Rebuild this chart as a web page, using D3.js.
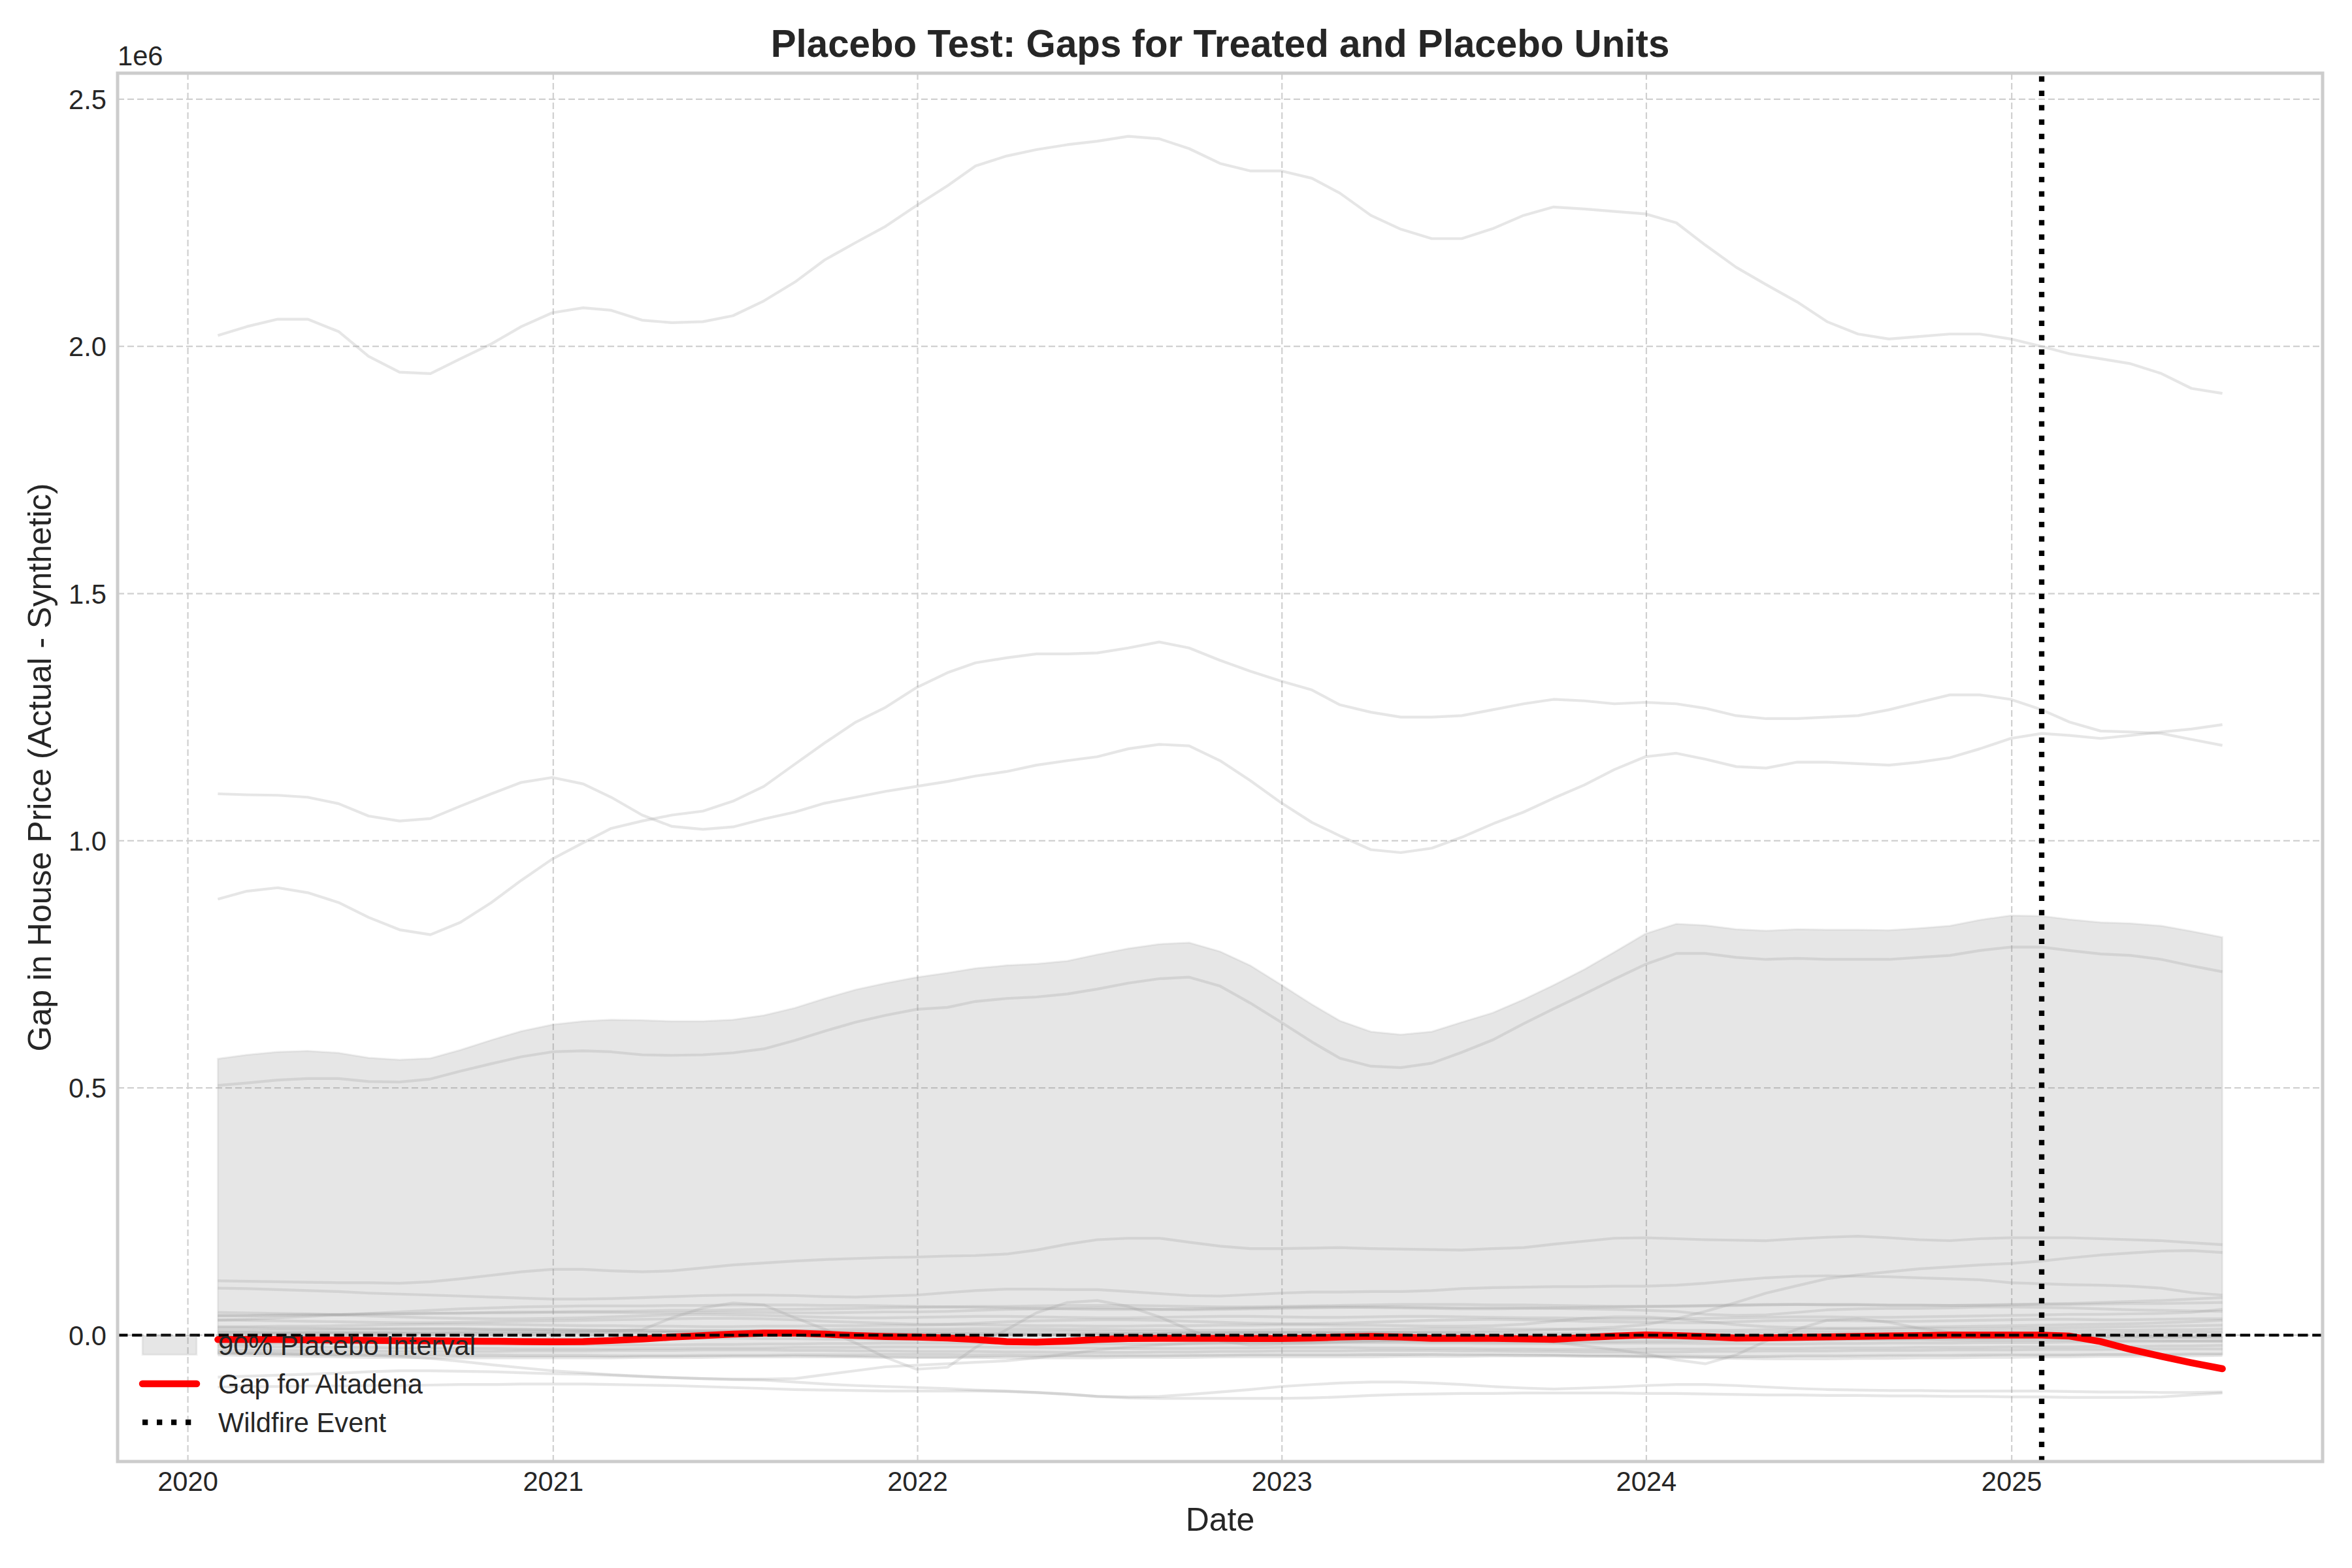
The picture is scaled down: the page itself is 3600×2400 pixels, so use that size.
<!DOCTYPE html>
<html><head><meta charset="utf-8">
<script src="https://cdn.jsdelivr.net/npm/d3@7"></script>
<style>body{margin:0;background:#fff}svg{display:block}</style>
</head><body>
<svg id="chart" width="3600" height="2400"></svg>
<script>
// ---------------- DATA (gap values in thousands of dollars) ----------------
const dates = [
"2020-01-31","2020-02-29","2020-03-31","2020-04-30","2020-05-31","2020-06-30","2020-07-31","2020-08-31","2020-09-30","2020-10-31","2020-11-30","2020-12-31",
"2021-01-31","2021-02-28","2021-03-31","2021-04-30","2021-05-31","2021-06-30","2021-07-31","2021-08-31","2021-09-30","2021-10-31","2021-11-30","2021-12-31",
"2022-01-31","2022-02-28","2022-03-31","2022-04-30","2022-05-31","2022-06-30","2022-07-31","2022-08-31","2022-09-30","2022-10-31","2022-11-30","2022-12-31",
"2023-01-31","2023-02-28","2023-03-31","2023-04-30","2023-05-31","2023-06-30","2023-07-31","2023-08-31","2023-09-30","2023-10-31","2023-11-30","2023-12-31",
"2024-01-31","2024-02-29","2024-03-31","2024-04-30","2024-05-31","2024-06-30","2024-07-31","2024-08-31","2024-09-30","2024-10-31","2024-11-30","2024-12-31",
"2025-01-31","2025-02-28","2025-03-31","2025-04-30","2025-05-31","2025-06-30","2025-07-31"];

const wildfireDate = "2025-01-31";
const xTickLabels = ["2020","2021","2022","2023","2024","2025"];
const yTickValues = [0, 0.5, 1.0, 1.5, 2.0, 2.5];           // in millions
const yTickLabels = ["0.0","0.5","1.0","1.5","2.0","2.5"];

// treated unit (Altadena)
const gapAltadena = [
-9,-9,-9,-9.5,-10,-10.5,-11,-11.5,-12,-12.5,-13,-13.5,
-13,-11,-8,-4,-1,2,4,4,2,-1,-3,-4,
-6,-9,-13,-14,-12,-9,-7,-6.5,-6.5,-6.5,-7,-7,
-6,-4,-2.5,-4,-6.5,-6.5,-6.5,-7.5,-8.5,-5,-2,0.5,
-1,-3,-6,-5.5,-4.5,-3.5,-2.5,-1.5,-1,0,0,0,
0,-2,-13,-29,-43,-56,-68];

// 90% placebo interval
const intervalUpper = [
559,567,573,575,571,561,557,560,577,597,615,628,
635,638,637,635,635,638,647,662,681,699,712,724,
733,742,748,751,757,770,782,791,794,776,748,709,
669,636,614,608,614,633,652,679,708,740,775,812,
832,829,821,818,821,820,820,819,823,828,840,849,
848,841,835,833,828,817,805];
const intervalLower = [
-38,-39,-40,-41,-42,-42,-43,-43,-44,-44,-44,-44,
-44,-44,-43,-43,-43,-42,-42,-42,-43,-44,-45,-46,
-46,-45,-44,-44,-43,-43,-42,-42,-42,-41,-41,-41,
-41,-41,-41,-41,-40,-40,-40,-40,-41,-42,-43,-44,
-45,-46,-46,-45,-44,-44,-43,-43,-42,-42,-42,-41,
-41,-41,-40,-40,-40,-39,-39];

// placebo units
const placeboA = [
2022,2040,2055,2055,2030,1980,1948,1945,1975,2005,2040,2068,
2078,2073,2053,2048,2050,2062,2092,2130,2175,2210,2243,2285,
2325,2365,2385,2398,2408,2415,2425,2420,2400,2370,2355,2355,
2340,2310,2265,2237,2218,2218,2238,2265,2282,2278,2273,2268,
2250,2205,2160,2125,2090,2050,2025,2015,2020,2025,2025,2015,
2000,1985,1975,1965,1945,1915,1905];
const placeboB = [
1095,1093,1092,1088,1075,1050,1040,1045,1070,1095,1118,1128,
1115,1088,1052,1029,1023,1028,1044,1058,1076,1088,1100,1110,
1120,1131,1140,1153,1162,1170,1186,1195,1192,1162,1122,1077,
1037,1010,982,976,985,1007,1034,1058,1086,1113,1144,1170,
1177,1165,1150,1147,1159,1159,1156,1153,1159,1168,1186,1207,
1217,1213,1207,1213,1220,1226,1235];
const placeboC = [
882,898,905,895,875,845,820,810,835,875,920,963,
996,1025,1040,1052,1060,1080,1110,1155,1198,1240,1270,1310,
1340,1360,1370,1378,1378,1380,1390,1402,1390,1365,1343,1323,
1305,1275,1260,1250,1250,1253,1265,1277,1286,1283,1277,1280,
1277,1268,1253,1247,1247,1250,1253,1265,1280,1295,1295,1286,
1265,1240,1222,1220,1217,1205,1193];
const placeboD = [
505,510,516,519,519,513,512,518,534,549,563,573,
575,573,567,566,567,571,579,596,615,633,647,659,
663,675,681,684,690,700,712,721,724,706,672,633,
593,560,544,541,550,572,597,630,660,690,720,750,
772,772,764,760,762,760,760,760,764,768,778,785,
785,778,771,768,760,747,735];
const placeboE = [
110,109,108,107,106,106,105,108,114,121,128,133,
133,130,128,130,136,142,146,150,153,155,157,158,
160,161,164,172,184,193,196,196,188,180,175,175,
176,177,175,174,173,172,175,177,184,190,196,197,
195,193,192,191,195,198,200,197,193,191,195,197,
197,197,195,193,191,187,183];
const placeboF = [
95,94,92,90,88,85,83,81,79,77,75,73,
73,74,76,78,80,81,81,80,78,77,79,81,
86,90,93,93,92,92,88,84,80,79,82,85,
87,87,88,88,90,94,96,97,98,98,99,99,
101,105,111,116,119,120,119,118,116,114,112,106,
104,102,101,99,95,86,81];
const placeboG = [
2,2,3,3,3,4,4,4,5,5,5,5,
6,6,6,6,5,5,5,4,4,4,4,3,
3,3,2,2,2,3,3,3,4,4,4,5,
5,5,6,6,7,7,8,9,11,13,16,21,
33,48,66,85,100,114,122,128,134,138,142,145,
150,156,162,166,170,171,167];
const placeboH = [
40,40,41,42,42,43,43,44,44,45,45,46,
46,46,45,45,46,46,46,45,45,46,47,47,
48,50,52,53,54,55,54,52,51,52,53,54,
55,56,57,57,56,55,55,55,54,53,52,50,
48,42,40,41,46,51,53,54,54,55,57,57,
56,55,53,51,50,49,48];
const placeboI = [
5,5,5,6,6,6,7,7,7,8,8,8,
8,9,11,35,55,65,61,35,12,-16,-45,-69,
-65,-25,11,45,66,70,58,37,11,-12,-20,-18,
-16,-14,-12,-10,-8,-6,-5,-4,-4,-3,-3,-3,
-2,-2,-1,-1,0,0,1,1,2,2,2,3,
3,4,4,5,5,6,6];
const placeboJ = [
15,15,14,14,13,13,12,12,12,11,11,11,
10,10,10,9,9,9,9,8,8,8,8,8,
8,8,8,8,8,7,7,7,6,6,6,6,
6,5,5,4,3,2,-1,-6,-14,-22,-29,-38,
-50,-58,-40,-12,12,30,33,26,14,6,2,0,
-1,-2,-3,-3,-4,-4,-5];
const placeboK = [
-36,-37,-38,-39,-40,-41,-43,-47,-53,-60,-66,-72,
-76,-80,-83,-86,-88,-89,-89,-88,-80,-72,-64,-61,
-58,-55,-52,-46,-38,-30,-24,-20,-17,-15,-14,-13,
-13,-12,-12,-12,-13,-13,-14,-14,-14,-13,-13,-12,
-12,-11,-11,-10,-10,-10,-9,-9,-9,-10,-10,-10,
-10,-10,-11,-11,-11,-12,-12];
const placeboL = [
-85,-83,-81,-79,-77,-74,-72,-72,-73,-74,-76,-78,
-79,-81,-84,-86,-88,-90,-91,-95,-99,-102,-104,-106,
-108,-111,-113,-116,-119,-124,-125,-124,-120,-115,-110,-104,
-100,-97,-95,-95,-97,-100,-104,-107,-109,-107,-105,-102,
-100,-100,-102,-105,-108,-110,-111,-112,-112,-113,-113,-113,
-113,-114,-115,-115,-116,-116,-115];
const placeboM = [
-105,-104,-104,-103,-103,-102,-102,-101,-100,-100,-99,-99,
-99,-100,-101,-102,-104,-106,-108,-110,-111,-112,-113,-113,
-113,-113,-114,-116,-120,-124,-127,-128,-128,-128,-128,-128,
-127,-125,-122,-120,-119,-118,-118,-117,-117,-117,-117,-118,
-118,-119,-120,-121,-121,-122,-122,-123,-123,-124,-124,-125,
-125,-126,-126,-126,-125,-121,-117];
const placeboN = [
31,30,29,28,27,26,25,25,26,27,28,29,
30,31,32,33,34,34,33,31,28,26,24,22,
22,24,27,29,30,31,31,30,28,26,24,23,
23,24,26,28,30,31,32,31,30,28,27,26,
25,25,27,29,30,30,29,28,28,29,30,31,
32,32,31,31,32,33,33];
const placeboO = [
46,45,44,43,41,39,37,35,34,33,33,34,
35,37,39,41,42,41,40,38,36,35,35,36,
37,38,38,37,36,35,35,36,37,38,38,37,
36,36,37,38,38,37,36,35,35,34,33,33,
33,34,35,36,37,37,36,36,37,38,39,40,
41,42,42,43,44,46,52];
const placeboP = [
39,39,40,40,41,42,43,44,45,46,47,47,
48,48,49,50,50,51,52,52,53,54,55,56,
57,58,58,59,60,60,60,59,58,57,57,58,
59,60,61,62,62,62,61,61,60,59,58,58,
58,59,60,61,62,62,62,61,61,60,60,61,
62,62,63,64,64,65,66];
const placeboQ = [
17,17,18,18,19,20,21,22,22,22,21,20,
19,19,18,18,17,17,18,18,19,19,20,20,
21,21,20,19,19,18,18,19,19,20,20,21,
21,20,20,19,18,18,19,22,28,34,37,37,
33,27,21,17,15,14,14,15,16,17,18,19,
20,21,22,23,25,27,30];
const placeboR = [
10,10,11,11,12,12,13,13,13,12,12,11,
11,10,10,9,9,9,10,10,11,12,12,12,
12,13,13,13,12,12,11,11,10,10,10,11,
11,12,12,12,13,13,13,12,12,11,11,11,
10,10,10,11,11,12,12,12,13,13,13,14,
14,15,16,17,18,19,20];
const placeboS = [
6,6,5,5,5,4,4,3,3,3,3,4,
4,5,5,6,6,6,5,5,4,4,4,4,
4,3,3,2,2,2,3,3,4,4,5,5,
5,5,6,6,6,5,5,4,4,4,4,4,
4,5,5,5,6,6,6,7,7,7,8,8,
9,9,10,10,11,11,12];
const placeboT = [
-7,-7,-8,-8,-9,-9,-10,-10,-10,-9,-9,-8,
-8,-7,-7,-6,-6,-6,-7,-7,-8,-8,-9,-9,
-9,-10,-10,-10,-9,-9,-8,-8,-8,-7,-7,-7,
-7,-8,-8,-9,-9,-9,-8,-8,-7,-7,-6,-6,
-6,-6,-7,-7,-7,-8,-8,-8,-7,-7,-7,-6,
-6,-6,-5,-5,-4,-4,-3];
const placeboU = [
-18,-18,-17,-17,-16,-16,-16,-17,-17,-18,-18,-19,
-19,-20,-20,-20,-19,-19,-18,-18,-17,-17,-16,-16,
-16,-16,-17,-17,-18,-18,-18,-18,-17,-17,-16,-16,
-16,-15,-15,-15,-16,-16,-17,-17,-17,-16,-16,-16,
-16,-17,-17,-18,-18,-17,-17,-16,-16,-16,-15,-15,
-15,-14,-14,-13,-13,-12,-12];
const placeboV = [
-23,-23,-24,-24,-25,-25,-26,-26,-27,-27,-28,-28,
-28,-28,-27,-27,-26,-26,-26,-25,-25,-25,-24,-24,
-24,-24,-25,-25,-26,-26,-27,-27,-27,-26,-26,-25,
-25,-25,-26,-26,-27,-27,-28,-28,-29,-29,-29,-28,
-28,-28,-27,-27,-27,-26,-26,-26,-25,-25,-25,-24,
-24,-24,-23,-23,-22,-22,-21];
const placeboW = [
-30,-30,-31,-31,-32,-32,-33,-33,-33,-33,-32,-32,
-32,-31,-31,-31,-30,-30,-30,-31,-31,-32,-32,-33,
-33,-33,-34,-34,-35,-35,-35,-34,-34,-33,-33,-32,
-32,-32,-31,-31,-31,-32,-32,-33,-33,-34,-34,-34,
-34,-33,-33,-32,-32,-32,-31,-31,-31,-30,-30,-30,
-29,-29,-29,-28,-28,-28,-28];
const placeboX = [
-34,-35,-36,-37,-38,-38,-39,-39,-40,-40,-41,-41,
-41,-42,-42,-42,-41,-41,-41,-40,-40,-40,-39,-39,
-39,-40,-40,-41,-41,-42,-42,-42,-41,-41,-40,-40,
-40,-40,-39,-39,-39,-40,-40,-41,-41,-42,-42,-42,
-42,-43,-43,-43,-42,-42,-42,-41,-41,-41,-40,-40,
-40,-40,-39,-39,-39,-38,-38];
const placeboY = [
-40,-41,-42,-43,-44,-45,-45,-46,-46,-46,-46,-46,
-46,-46,-45,-45,-45,-44,-44,-44,-44,-44,-45,-45,
-45,-45,-46,-46,-46,-46,-45,-45,-45,-44,-44,-44,
-44,-44,-44,-43,-43,-43,-42,-42,-42,-43,-43,-44,
-45,-46,-47,-48,-48,-48,-47,-47,-46,-46,-45,-45,
-44,-44,-43,-43,-42,-42,-41];
const placeboZ = [
30,32,35,38,41,44,47,50,53,55,57,58,
59,59,59,60,60,61,61,61,60,60,59,58,
57,56,55,54,53,52,52,52,53,54,55,56,
57,57,56,55,54,53,53,54,55,56,57,58,
59,60,61,62,62,61,61,60,60,60,61,62,
63,64,66,68,70,73,76];

const placeboSeries = [placeboA,placeboB,placeboC,placeboD,placeboE,placeboF,placeboG,
  placeboH,placeboI,placeboJ,placeboK,placeboL,placeboM,placeboN,placeboO,placeboP,
  placeboQ,placeboR,placeboS,placeboT,placeboU,placeboV,placeboW,placeboX,placeboY,placeboZ];

const legendLabels = ["90% Placebo Interval","Gap for Altadena","Wildfire Event"];
const titleText = "Placebo Test: Gaps for Treated and Placebo Units";
const xLabel = "Date";
const yLabel = "Gap in House Price (Actual - Synthetic)";

// ---------------- CHART ----------------
const UNIT = 1000;
const FONT = "'Liberation Sans', Arial, Helvetica, sans-serif";
const TXT = "#262626";
const svg = d3.select("#chart");
const box = {left:180, right:3555, top:112, bottom:2237};

const parse = d3.utcParse("%Y-%m-%d");
const X = dates.map(parse);
const t0 = X[0], t1 = X[X.length-1];
const xPad = (t1 - t0) * 0.05;
const x = d3.scaleUtc().domain([new Date(+t0 - xPad), new Date(+t1 + xPad)]).range([box.left, box.right]);

const allVals = placeboSeries.flat().concat(gapAltadena).map(v => v * UNIT);
const vMin = d3.min(allVals), vMax = d3.max(allVals);
const yPad = (vMax - vMin) * 0.05;
const y = d3.scaleLinear().domain([vMin - yPad, vMax + yPad]).range([box.bottom, box.top]);

svg.append("rect").attr("width",3600).attr("height",2400).attr("fill","#fff");

// grid
const gridG = svg.append("g");
const xTickDates = xTickLabels.map(s => parse(s + "-01-01"));
gridG.selectAll("line.vx").data(xTickDates).join("line")
  .attr("x1", d => x(d)).attr("x2", d => x(d)).attr("y1", box.top).attr("y2", box.bottom)
  .attr("stroke", "#d0d0d0").attr("stroke-width", 2.2).attr("stroke-dasharray", "10,5");
gridG.selectAll("line.hy").data(yTickValues).join("line")
  .attr("x1", box.left).attr("x2", box.right).attr("y1", d => y(d*1e6)).attr("y2", d => y(d*1e6))
  .attr("stroke", "#d0d0d0").attr("stroke-width", 2.2).attr("stroke-dasharray", "10,5");

// band
const area = d3.area().x((d,i) => x(X[i])).y0((d,i) => y(intervalLower[i]*UNIT)).y1(d => y(d*UNIT));
svg.append("path").datum(intervalUpper).attr("d", area)
  .attr("fill", "#808080").attr("fill-opacity", 0.2)
  .attr("stroke", "#808080").attr("stroke-opacity", 0.12).attr("stroke-width", 3);

// placebo lines
const line = d3.line().x((d,i) => x(X[i])).y(d => y(d*UNIT));
svg.append("g").selectAll("path").data(placeboSeries).join("path")
  .attr("d", line).attr("fill","none").attr("stroke","#9a9a9a").attr("stroke-opacity",0.25)
  .attr("stroke-width",4.2).attr("stroke-linejoin","round");

// treated
svg.append("path").datum(gapAltadena).attr("d", line).attr("fill","none")
  .attr("stroke","#ff0000").attr("stroke-width",10.5).attr("stroke-linejoin","round").attr("stroke-linecap","round");

// zero line
svg.append("line").attr("x1",box.left).attr("x2",box.right).attr("y1",y(0)).attr("y2",y(0))
  .attr("stroke","#000").attr("stroke-width",4.2).attr("stroke-dasharray","15.4,6.7");

// wildfire line
const wf = x(parse(wildfireDate));
svg.append("line").attr("x1",wf).attr("x2",wf).attr("y1",box.bottom).attr("y2",box.top)
  .attr("stroke","#000").attr("stroke-width",8.3).attr("stroke-dasharray","8.3,13.7");

// spines
svg.append("rect").attr("x",box.left).attr("y",box.top).attr("width",box.right-box.left).attr("height",box.bottom-box.top)
  .attr("fill","none").attr("stroke","#cccccc").attr("stroke-width",5);

// tick labels
svg.append("g").selectAll("text").data(xTickDates).join("text")
  .attr("x", d => x(d)).attr("y", 2282).attr("text-anchor","middle")
  .attr("font-family",FONT).attr("font-size",41.7).attr("fill",TXT)
  .text((d,i) => xTickLabels[i]);
svg.append("g").selectAll("text").data(yTickValues).join("text")
  .attr("x", 163).attr("y", d => y(d*1e6) + 15).attr("text-anchor","end")
  .attr("font-family",FONT).attr("font-size",41.7).attr("fill",TXT)
  .text((d,i) => yTickLabels[i]);
svg.append("text").attr("x",box.left).attr("y",100).attr("font-family",FONT).attr("font-size",41.7).attr("fill",TXT).text("1e6");

// axis labels + title
svg.append("text").attr("x",(box.left+box.right)/2).attr("y",2343).attr("text-anchor","middle")
  .attr("font-family",FONT).attr("font-size",50).attr("fill",TXT).text(xLabel);
svg.append("text").attr("transform",`translate(78,${(box.top+box.bottom)/2}) rotate(-90)`).attr("text-anchor","middle")
  .attr("font-family",FONT).attr("font-size",50).attr("fill",TXT).text(yLabel);
svg.append("text").attr("x",(box.left+box.right)/2).attr("y",87).attr("text-anchor","middle")
  .attr("font-family",FONT).attr("font-size",58.3).attr("font-weight","bold").attr("fill",TXT).text(titleText);

// legend
const lg = svg.append("g");
const hx0 = 218, hx1 = 301, tx = 334;
const rows = [2059, 2118, 2177];
lg.append("rect").attr("x",hx0).attr("y",rows[0]-14.5).attr("width",hx1-hx0).attr("height",29)
  .attr("fill","#808080").attr("fill-opacity",0.2).attr("stroke","#808080").attr("stroke-opacity",0.12).attr("stroke-width",3);
lg.append("line").attr("x1",hx0).attr("x2",hx1).attr("y1",rows[1]).attr("y2",rows[1])
  .attr("stroke","#ff0000").attr("stroke-width",10.5).attr("stroke-linecap","round");
lg.append("line").attr("x1",hx0).attr("x2",hx1).attr("y1",rows[2]).attr("y2",rows[2])
  .attr("stroke","#000").attr("stroke-width",8.3).attr("stroke-dasharray","8.3,13.7");
lg.selectAll("text").data(legendLabels).join("text")
  .attr("x",tx).attr("y",(d,i) => rows[i] + 14.5)
  .attr("font-family",FONT).attr("font-size",41.7).attr("fill",TXT).text(d => d);
</script>
</body></html>
